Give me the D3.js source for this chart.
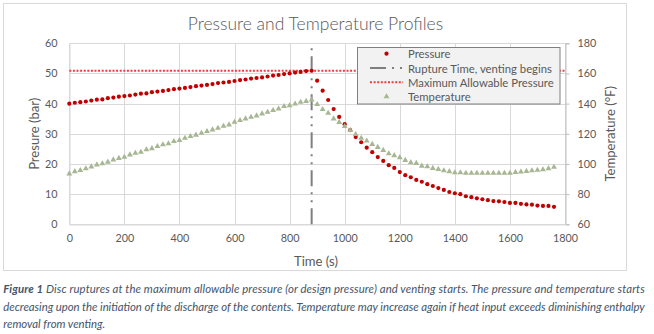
<!DOCTYPE html>
<html><head><meta charset="utf-8">
<script src="https://cdn.jsdelivr.net/npm/d3@7"></script>
<style>body{margin:0;background:#fff} svg{display:block}</style>
</head><body><svg id="c" width="654" height="334"></svg>
<script>
// ---------- DATA ----------
const timeS = [0,20,40,60,80,100,120,140,160,180,200,220,240,260,280,300,320,340,360,380,
  400,420,440,460,480,500,520,540,560,580,600,620,640,660,680,700,720,740,760,780,
  800,820,840,860,880,900,920,940,960,980,1000,1020,1040,1060,1080,1100,1120,1140,1160,1180,
  1200,1220,1240,1260,1280,1300,1320,1340,1360,1380,1400,1420,1440,1460,1480,1500,1520,1540,1560,1580,
  1600,1620,1640,1660,1680,1700,1720,1740,1760];
const pressureBar = [40.0,40.3,40.5,40.7,41.0,41.3,41.4,41.8,42.0,42.3,42.5,42.7,43.0,43.3,43.4,43.8,44.0,44.2,44.5,44.8,
  45.0,45.2,45.5,45.8,46.0,46.2,46.5,46.8,47.0,47.2,47.5,47.8,48.0,48.3,48.5,48.7,49.0,49.3,49.5,49.8,
  50.0,50.3,50.5,50.8,50.9,47.6,44.3,41.2,38.2,35.6,33.2,31.2,28.9,27.2,25.4,23.9,22.3,21.0,19.6,18.7,
  17.3,16.3,15.6,14.7,14.1,13.3,12.7,12.0,11.4,10.7,10.3,10.0,9.3,9.0,8.6,8.3,8.0,7.7,7.6,7.4,
  7.1,7.1,6.8,6.6,6.5,6.2,6.1,6.1,5.8];
const temperatureF = [93.5,95.0,95.8,96.9,98.2,99.5,100.2,101.3,102.8,103.8,104.6,106.1,107.2,107.9,109.5,110.3,111.7,112.8,113.5,115.0,
  115.7,117.2,118.3,119.2,120.5,121.6,122.7,123.8,125.1,126.0,127.8,128.9,130.0,131.1,132.0,133.3,134.4,135.5,136.6,138.2,
  138.8,139.9,141.0,141.6,142.6,139.5,136.2,133.7,130.0,127.7,124.9,122.4,119.6,117.1,115.3,113.1,111.1,109.1,106.9,105.6,
  104.3,102.5,101.0,100.5,98.7,98.3,97.2,96.5,95.6,95.0,94.3,94.3,93.9,93.9,93.9,93.9,93.9,93.9,93.9,93.9,
  93.9,94.5,94.8,95.2,95.6,95.9,96.3,97.0,97.9];
const ruptureTime = 880;
const ruptureLineBar = [0, 60];
const maxAllowablePressure = 50.9;
const xTicks = [0,200,400,600,800,1000,1200,1400,1600,1800];
const pTicks = [0,10,20,30,40,50,60];
const tTicks = [60,80,100,120,140,160,180];
const legendLabels = ["Pressure","Rupture Time, venting begins","Maximum Allowable Pressure","Temperature"];
const titleText = "Pressure and Temperature Profiles";
const xTitle = "Time (s)", pTitle = "Presure (bar)", tTitle = "Temperature (°F)";
const captionBold = "Figure 1";
const captionLines = [
  " Disc ruptures at the maximum allowable pressure (or design pressure) and venting starts. The pressure and temperature starts",
  "decreasing upon the initiation of the discharge of the contents. Temperature may increase again if heat input exceeds diminishing enthalpy",
  "removal from venting."
];

// ---------- LAYOUT ----------
const FONT = "Lato, 'Open Sans', sans-serif";
const TXT = "#595959";
const P = {left: 69.3, right: 565, top: 43.3, bottom: 224.3};
const svg = d3.select("#c");
const x = d3.scaleLinear().domain([0,1800]).range([P.left, P.right]);
const yP = d3.scaleLinear().domain([0,60]).range([P.bottom, P.top]);
const yT = d3.scaleLinear().domain([60,180]).range([P.bottom, P.top]);

function fit(sel, target){
  const w = sel.node().getComputedTextLength();
  const fs = parseFloat(sel.attr("font-size"));
  return fs * target / w;
}
function probe(str, target){
  const t = svg.append("text").attr("font-family", FONT).attr("font-size", 12).text(str);
  const fs = fit(t, target); t.remove(); return fs;
}

const tickFS = probe("1800", 25);
const legFS = probe(legendLabels[1], 144);
const titleFS = probe(titleText, 261);
const axTitleFS = probe(xTitle, 44);

// chart border
svg.append("rect").attr("x",3.5).attr("y",3.5).attr("width",623).attr("height",267)
  .attr("fill","#fff").attr("stroke","#d9d9d9").attr("stroke-width",1);

// gridlines
const grid = svg.append("g");
grid.selectAll("line.h").data(pTicks).join("line")
  .attr("x1",P.left).attr("x2",P.right).attr("y1",d=>Math.round(yP(d))+0.5).attr("y2",d=>Math.round(yP(d))+0.5)
  .attr("stroke","#d9d9d9");
grid.selectAll("line.v").data(xTicks).join("line")
  .attr("y1",P.top).attr("y2",P.bottom).attr("x1",d=>Math.round(x(d))+0.5).attr("x2",d=>Math.round(x(d))+0.5)
  .attr("stroke","#d9d9d9");

// axes
const axB = svg.append("g").attr("transform",`translate(0,${Math.round(P.bottom)+0.5})`)
  .call(d3.axisBottom(x).tickValues(xTicks).tickSize(0).tickPadding(10).tickFormat(d3.format("d")));
const axL = svg.append("g").attr("transform",`translate(${Math.round(P.left)+0.5},0)`)
  .call(d3.axisLeft(yP).tickValues(pTicks).tickSize(0).tickPadding(12).tickFormat(d3.format("d")));
const axR = svg.append("g").attr("transform",`translate(${Math.round(P.right)+0.5},0)`)
  .call(d3.axisRight(yT).tickValues(tTicks).tickSize(4).tickPadding(8).tickFormat(d3.format("d")));
[axB, axL, axR].forEach(a=>{
  a.selectAll("text").attr("font-family",FONT).attr("font-size",tickFS).attr("fill",TXT);
  a.select(".domain").attr("stroke","#bfbfbf");
  a.selectAll(".tick line").attr("stroke","#bfbfbf");
});
axL.select(".domain").attr("stroke","#d9d9d9");
axB.select(".domain").attr("stroke","#d9d9d9");

// axis titles
svg.append("text").attr("x",316).attr("y",260.5).attr("text-anchor","middle").attr("dominant-baseline","central")
  .attr("font-family",FONT).attr("font-size",axTitleFS).attr("fill",TXT).text(xTitle);
svg.append("text").attr("transform",`translate(34,${(P.top+P.bottom)/2}) rotate(-90)`).attr("text-anchor","middle")
  .attr("dominant-baseline","central").attr("font-family",FONT).attr("font-size",axTitleFS).attr("fill",TXT).text(pTitle);
svg.append("text").attr("transform",`translate(610,${(P.top+P.bottom)/2}) rotate(-90)`).attr("text-anchor","middle")
  .attr("dominant-baseline","central").attr("font-family",FONT).attr("font-size",axTitleFS).attr("fill",TXT).text(tTitle);

// title
svg.append("text").attr("x",315.5).attr("y",30).attr("text-anchor","middle")
  .attr("font-family",FONT).attr("font-weight",300).attr("font-size",titleFS).attr("fill",TXT).text(titleText);

// rupture line (drawn from bottom up so the long dash ends at the axis)
const RUP_DASH = "16,6,2,6,2,6";
svg.append("line").attr("x1",x(ruptureTime)).attr("x2",x(ruptureTime))
  .attr("y1",yP(ruptureLineBar[0])).attr("y2",yP(ruptureLineBar[1]))
  .attr("stroke","#7f7f7f").attr("stroke-width",2).attr("stroke-dasharray",RUP_DASH);

// max allowable pressure
const MAX_DASH = "2,1.6";
svg.append("line").attr("x1",P.left).attr("x2",P.right)
  .attr("y1",yP(maxAllowablePressure)).attr("y2",yP(maxAllowablePressure))
  .attr("stroke","#f23a3a").attr("stroke-width",2).attr("stroke-dasharray",MAX_DASH);

// pressure points
const PCOL = "#c00000", TCOL = "#a7b693";
svg.append("g").selectAll("circle").data(timeS).join("circle")
  .attr("cx",(d)=>x(d)).attr("cy",(d,i)=>yP(pressureBar[i])).attr("r",2.1).attr("fill",PCOL);

// temperature points
const tri = d3.symbol().type(d3.symbolTriangle).size(15);
svg.append("g").selectAll("path").data(timeS).join("path")
  .attr("d",tri).attr("transform",(d,i)=>`translate(${x(d)},${yT(temperatureF[i])})`).attr("fill",TCOL);

// legend
const L = {x:357.5, y:47.5, w:202.5, h:56.5};
const lg = svg.append("g");
lg.append("rect").attr("x",L.x).attr("y",L.y).attr("width",L.w).attr("height",L.h)
  .attr("fill","#f2f2f2").attr("stroke","#808080").attr("stroke-width",1);
const rows = [53.7, 68.0, 82.3, 96.6];
legendLabels.forEach((lab,i)=>{
  lg.append("text").attr("x",408).attr("y",rows[i]).attr("dominant-baseline","central")
    .attr("font-family",FONT).attr("font-size",legFS).attr("fill",TXT).text(lab);
});
lg.append("circle").attr("cx",386.5).attr("cy",rows[0]).attr("r",2.1).attr("fill",PCOL);
lg.append("line").attr("x1",370).attr("x2",403).attr("y1",rows[1]).attr("y2",rows[1])
  .attr("stroke","#7f7f7f").attr("stroke-width",2).attr("stroke-dasharray",RUP_DASH);
lg.append("line").attr("x1",370).attr("x2",403).attr("y1",rows[2]).attr("y2",rows[2])
  .attr("stroke","#f23a3a").attr("stroke-width",2).attr("stroke-dasharray",MAX_DASH);
lg.append("path").attr("d",tri).attr("transform",`translate(386.5,${rows[3]})`).attr("fill",TCOL);

// caption
const CAPCOL = "#44546a";
const capProbe = svg.append("text").attr("font-family",FONT).attr("font-style","italic").attr("font-size",12).text(captionLines[2]);
const capFS = Math.min(fit(capProbe, 102), 11.5); capProbe.remove();
const capY = [293.3, 310.6, 327.6];
const c1 = svg.append("text").attr("x",3.3).attr("y",capY[0]).attr("font-family",FONT).attr("font-style","italic")
  .attr("font-size",capFS).attr("fill",CAPCOL).attr("textLength",641.5).attr("lengthAdjust","spacing");
c1.append("tspan").attr("font-weight",700).text(captionBold);
c1.append("tspan").text(captionLines[0]);
svg.append("text").attr("x",3.3).attr("y",capY[1]).attr("font-family",FONT).attr("font-style","italic")
  .attr("font-size",capFS).attr("fill",CAPCOL).attr("textLength",641.5).attr("lengthAdjust","spacing").text(captionLines[1]);
svg.append("text").attr("x",3.3).attr("y",capY[2]).attr("font-family",FONT).attr("font-style","italic")
  .attr("font-size",capFS).attr("fill",CAPCOL).text(captionLines[2]);
</script></body></html>
